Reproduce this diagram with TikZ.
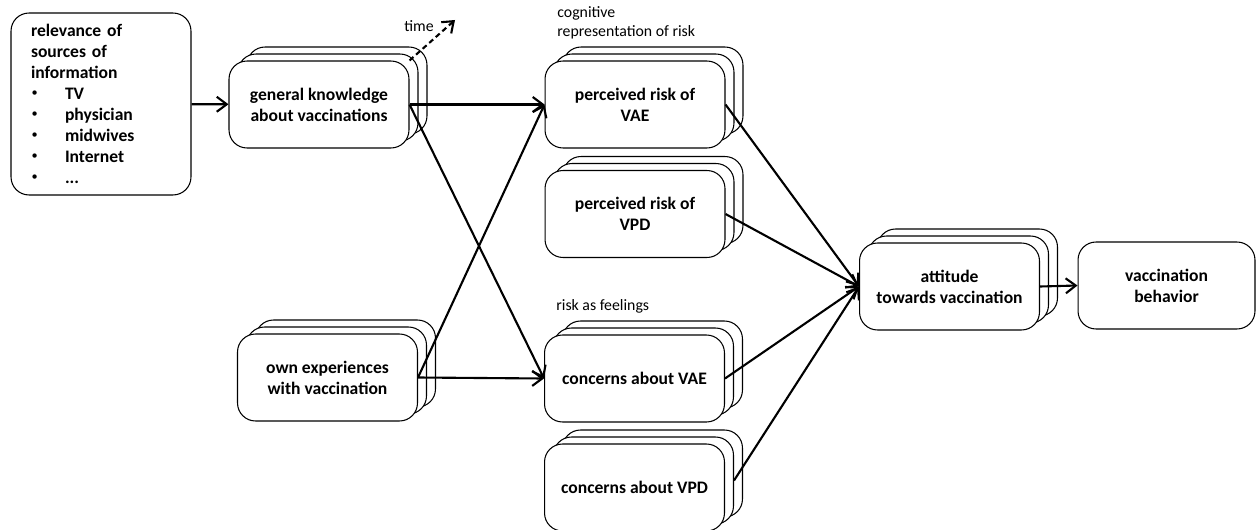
\documentclass[tikz,border=0pt]{standalone}
\usepackage{fontspec}
\setmainfont{Carlito}
\usetikzlibrary{arrows.meta,shadows,calc}
\tikzset{
  box/.style={draw,fill=white,rounded corners=0.36cm,line width=0.6pt,minimum width=3.6cm,minimum height=1.74cm,align=center,font=\bfseries},
  stack/.style={box,copy shadow={shadow xshift=0.36cm,shadow yshift=0.28cm},copy shadow={shadow xshift=0.18cm,shadow yshift=0.14cm}},
  link/.style={line width=1.2pt,-{Straight Barb[length=2mm,width=3mm]}},
  note/.style={inner sep=0,font=\small,align=left},
}
\newcommand\srcitem[1]{\makebox[0.68cm][l]{\hspace{0.3pt}\raisebox{0.35ex}{\mdseries\scriptsize\textbullet}}#1}

\begin{document}
\begin{tikzpicture}[x=0.02cm,y=0.02cm]
\useasboundingbox (0,0) rectangle (1256,-530);
\node[box,text width=2.8cm,inner xsep=0.4cm,minimum height=3.64cm,align=left] (src) at (101,-104)
  {relevance of\\sources of\\information\\\srcitem{TV}\\\srcitem{physician}\\\srcitem{midwives}\\\srcitem{Internet}\\\srcitem{...}};
\node[stack] (know) at (319,-104.5) {general knowledge\\about vaccinations};
\node[stack] (own) at (327.5,-377.5) {own experiences\\with vaccination};
\node[stack] (riskvae) at (635,-104.5) {perceived risk of\\VAE};
\node[stack] (riskvpd) at (635,-214) {perceived risk of\\VPD};
\node[stack] (concvae) at (634.5,-378.5) {concerns about VAE};
\node[stack] (concvpd) at (634.5,-487.5) {concerns about VPD};
\node[stack] (att) at (949.5,-286.5) {attitude\\towards vaccination};
\node[box,minimum width=3.54cm] (behav) at (1166.5,-285.5) {vaccination\\behavior};
\node[note,anchor=west] (timelbl) at (404,-26) {time};
\node[note,anchor=north west] (cogn) at (557,-6) {cognitive\\representation of risk};
\node[note,anchor=west] (feel) at (556,-306) {risk as feelings};
\coordinate (timeend) at (455,-20);
\coordinate (vpdback) at ($(concvpd.east)+(0.18cm,0.14cm)$);
\draw[link,dash pattern=on 3pt off 2pt] (know.north east) -- (timeend);
\draw[link] (src) -- (know);
\draw[link] (know.east) -- (riskvae.west);
\draw[link] (know.east) -- (concvae.west);
\draw[link] (own.east) -- (riskvae.west);
\draw[link] (own.east) -- (concvae.west);
\draw[link] (riskvae.east) -- (att.west);
\draw[link] (riskvpd.east) -- (att.west);
\draw[link] (concvae.east) -- (att.west);
\draw[link] (vpdback) -- (att.west);
\draw[link] (att.east) -- (behav.west);
\end{tikzpicture}
\end{document}
